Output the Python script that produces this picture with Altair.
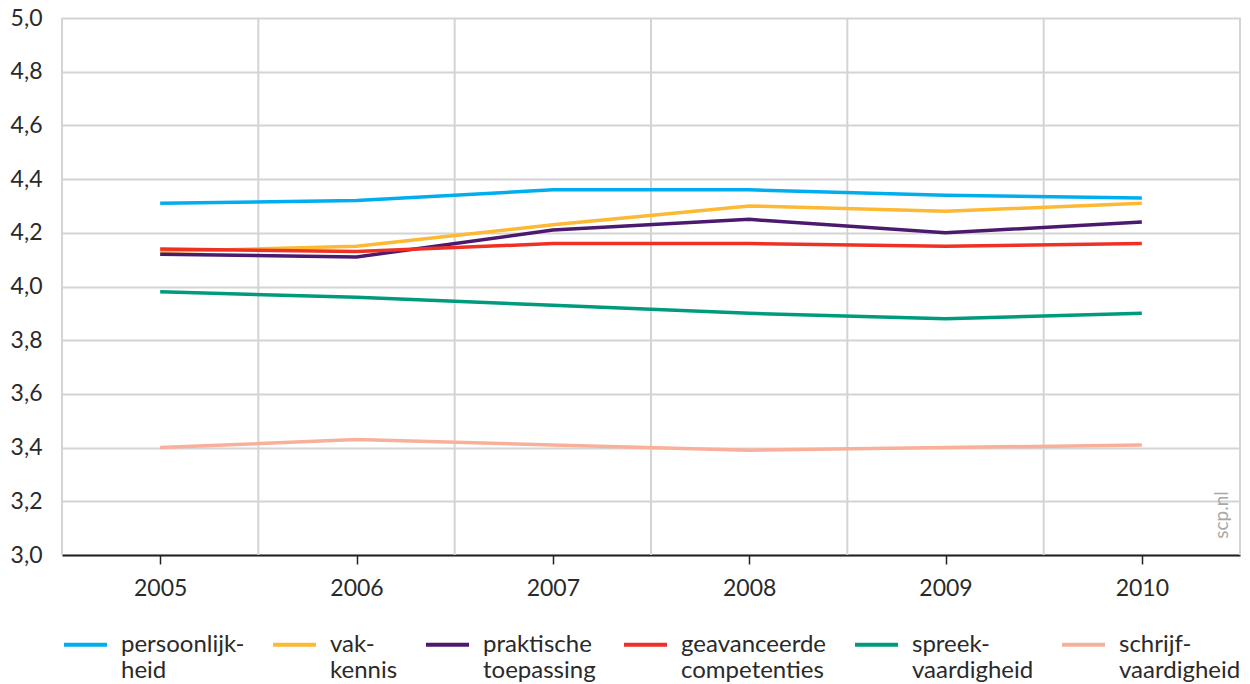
import altair as alt
import pandas as pd

years = [2005, 2006, 2007, 2008, 2009, 2010]
series = [
    "persoonlijk-|heid",
    "vak-|kennis",
    "praktische|toepassing",
    "geavanceerde|competenties",
    "spreek-|vaardigheid",
    "schrijf-|vaardigheid",
]
persoonlijkheid = [4.31, 4.32, 4.36, 4.36, 4.34, 4.33]
vakkennis = [4.13, 4.15, 4.23, 4.30, 4.28, 4.31]
praktische = [4.12, 4.11, 4.21, 4.25, 4.20, 4.24]
geavanceerde = [4.14, 4.13, 4.16, 4.16, 4.15, 4.16]
spreek = [3.98, 3.96, 3.93, 3.90, 3.88, 3.90]
schrijf = [3.40, 3.43, 3.41, 3.39, 3.40, 3.41]
colors = ["#00aeef", "#fdb933", "#4b1a6e", "#ee3124", "#009b7d", "#f9b09a"]
y_ticks = [3.0, 3.2, 3.4, 3.6, 3.8, 4.0, 4.2, 4.4, 4.6, 4.8, 5.0]
grid_x = [2004.5, 2005.5, 2006.5, 2007.5, 2008.5, 2009.5, 2010.5]

values = [persoonlijkheid, vakkennis, praktische, geavanceerde, spreek, schrijf]
rows = []
for i, (name, vals) in enumerate(zip(series, values)):
    for yr, v in zip(years, vals):
        rows.append({"jaar": yr, "score": v, "reeks": name, "ord": i})
df = pd.DataFrame(rows)

FONT = "Lato"
TXT = "#2a2a2a"
x_scale = alt.Scale(domain=[2004.5, 2010.5], nice=False, zero=False)
y_scale = alt.Scale(domain=[3.0, 5.0], nice=False, zero=False)

x_axis = alt.Axis(
    values=years,
    format="d",
    title=None,
    grid=False,
    domain=True,
    domainColor="#222222",
    domainWidth=2,
    ticks=True,
    tickColor="#222222",
    tickSize=9,
    tickWidth=1.5,
    labelPadding=13,
    labelFont=FONT,
    labelFontSize=23,
    labelColor=TXT,
)

vgrid = (
    alt.Chart(pd.DataFrame({"g": grid_x}))
    .mark_rule(color="#d4d4d4", strokeWidth=2)
    .encode(x=alt.X("g:Q", scale=x_scale, axis=x_axis))
)

lines = (
    alt.Chart(df)
    .mark_line(strokeWidth=3.5)
    .encode(
        x=alt.X("jaar:Q", scale=x_scale, axis=x_axis),
        y=alt.Y(
            "score:Q",
            scale=y_scale,
            axis=alt.Axis(
                values=y_ticks,
                labelExpr="replace(format(datum.value, '.1f'), '.', ',')",
                title=None,
                grid=True,
                gridColor="#d4d4d4",
                gridWidth=2,
                domain=False,
                ticks=False,
                labelPadding=20,
                labelFont=FONT,
                labelFontSize=23,
                labelColor=TXT,
            ),
        ),
        color=alt.Color(
            "reeks:N",
            scale=alt.Scale(domain=series, range=colors),
            sort=series,
            legend=alt.Legend(
                orient="none",
                legendX=0,
                legendY=603,
                direction="horizontal",
                columns=6,
                title=None,
                symbolType="stroke",
                symbolSize=1849,
                symbolStrokeWidth=4,
                labelExpr="split(datum.label, '|')",
                labelFont=FONT,
                labelFontSize=24,
                labelColor=TXT,
                labelBaseline="middle",
                labelOffset=12,
                labelLimit=300,
                columnPadding=20,
            ),
        ),
        order=alt.Order("ord:Q"),
    )
)

watermark = (
    alt.Chart(pd.DataFrame({"t": ["scp.nl"]}))
    .mark_text(angle=270, font=FONT, fontSize=19, color="#a8a8a8", align="center", baseline="middle")
    .encode(x=alt.value(1160), y=alt.value(497), text="t:N")
)

chart = (
    alt.layer(vgrid, lines, watermark)
    .properties(
        width=1178,
        height=537,
        padding={"left": 54, "top": 10, "right": 2, "bottom": 130},
        autosize=alt.AutoSizeParams(type="none"),
    )
    .configure_view(stroke=None)
)

chart.save("out.html", embed_options={"renderer": "svg", "actions": False})
